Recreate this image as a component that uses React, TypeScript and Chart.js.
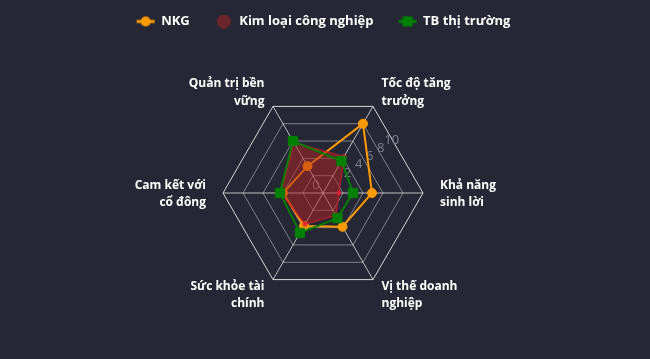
import React, { useEffect, useRef } from "react";
import { Chart, registerables } from "chart.js";

Chart.register(...registerables);

const CATEGORIES: string[][] = [
  ["Tốc độ tăng", "trưởng"],
  ["Khả năng", "sinh lời"],
  ["Vị thế doanh", "nghiệp"],
  ["Sức khỏe tài", "chính"],
  ["Cam kết với", "cổ đông"],
  ["Quản trị bền", "vững"],
];
const SERIES_NAMES = ["NKG", "Kim loại công nghiệp", "TB thị trường"];
const NKG = [8.0, 4.9, 3.9, 3.8, 4.0, 3.1];
const KIM_LOAI = [4.2, 1.6, 2.6, 3.6, 4.2, 5.8];
const TB_THI_TRUONG = [3.7, 3.0, 2.9, 4.6, 4.3, 6.0];
const TICK_VALUES = [0, 2, 4, 6, 8, 10];
const TICK_LABELS = ["0", "2", "4", "6", "8", "10"];

const BG = "#252834";
const ORANGE = "#ff9a00";
const RED_FILL = "rgba(178,34,34,0.5)";
const RED_LINE = "rgba(200,30,45,0.75)";
const GREEN = "#008000";
const FONT = "'Open Sans', 'Noto Sans', sans-serif";

function makeIcon(kind: string): HTMLCanvasElement {
  const c = document.createElement("canvas");
  c.width = 20;
  c.height = 14;
  const g = c.getContext("2d")!;
  if (kind === "orange") {
    g.strokeStyle = ORANGE;
    g.lineWidth = 3;
    g.beginPath();
    g.moveTo(1, 7);
    g.lineTo(19, 7);
    g.stroke();
    g.fillStyle = ORANGE;
    g.beginPath();
    g.arc(10, 7, 5, 0, Math.PI * 2);
    g.fill();
  } else if (kind === "red") {
    g.fillStyle = RED_FILL;
    g.beginPath();
    g.arc(10, 7, 7, 0, Math.PI * 2);
    g.fill();
  } else {
    g.strokeStyle = GREEN;
    g.lineWidth = 3;
    g.beginPath();
    g.moveTo(1, 7);
    g.lineTo(19, 7);
    g.stroke();
    g.fillStyle = GREEN;
    g.fillRect(5, 2, 10, 10);
  }
  return c;
}

const pointLabelPlugin = {
  id: "customPointLabels",
  afterDatasetsDraw(chart: any) {
    const s = chart.scales.r;
    const ctx = chart.ctx;
    ctx.save();
    ctx.font = `bold 12px ${FONT}`;
    ctx.fillStyle = "#ffffff";
    ctx.textBaseline = "middle";
    const labels = chart.data.labels as string[][];
    const lh = 17.5;
    labels.forEach((lines, i) => {
      const p = s.getPointPosition(i, s.drawingArea + 17);
      const dx = p.x - s.xCenter;
      ctx.textAlign = dx > 1 ? "left" : dx < -1 ? "right" : "center";
      const y0 = p.y - ((lines.length - 1) * lh) / 2 + 1;
      lines.forEach((t, k) => ctx.fillText(t, p.x, y0 + k * lh));
    });
    ctx.restore();
  },
};

const tickLabelPlugin = {
  id: "customTickLabels",
  beforeDatasetsDraw(chart: any) {
    const s = chart.scales.r;
    const ctx = chart.ctx;
    ctx.save();
    ctx.font = `13px ${FONT}`;
    ctx.fillStyle = "#7e838d";
    ctx.textAlign = "center";
    ctx.textBaseline = "middle";
    TICK_VALUES.forEach((v, i) => {
      const d = s.getDistanceFromCenterForValue(v);
      let x: number, y: number;
      if (v === 0) {
        x = s.xCenter - 7;
        y = s.yCenter - 8;
      } else {
        x = s.xCenter + 13.5 + 0.5525 * d;
        y = s.yCenter - 11.75 - 0.4125 * d;
      }
      ctx.fillText(TICK_LABELS[i], x, y);
    });
    ctx.restore();
  },
};

export default function App() {
  const ref = useRef<HTMLCanvasElement | null>(null);

  useEffect(() => {
    if (!ref.current) return;
    const icons = [makeIcon("orange"), makeIcon("red"), makeIcon("green")];
    const chart = new Chart(ref.current, {
      type: "radar",
      data: {
        labels: CATEGORIES,
        datasets: [
          {
            label: SERIES_NAMES[0],
            data: NKG,
            borderColor: ORANGE,
            backgroundColor: ORANGE,
            borderWidth: 2,
            pointRadius: 4.5,
            pointBackgroundColor: ORANGE,
            pointBorderColor: ORANGE,
            pointBorderWidth: 1,
            fill: false,
            order: 3,
          },
          {
            label: SERIES_NAMES[1],
            data: KIM_LOAI,
            borderColor: RED_LINE,
            backgroundColor: RED_FILL,
            borderWidth: 1.5,
            pointRadius: 2.5,
            pointBackgroundColor: "rgba(230,30,50,0.8)",
            pointBorderWidth: 0,
            fill: true,
            order: 2,
          },
          {
            label: SERIES_NAMES[2],
            data: TB_THI_TRUONG,
            borderColor: GREEN,
            backgroundColor: GREEN,
            borderWidth: 2,
            pointStyle: "rect",
            pointRadius: 6.5,
            pointBackgroundColor: GREEN,
            pointBorderColor: GREEN,
            pointBorderWidth: 1,
            fill: false,
            order: 1,
          },
        ],
      },
      options: {
        animation: false,
        responsive: true,
        maintainAspectRatio: false,
        elements: { line: { tension: 0 } },
        layout: { padding: { top: -10, right: 3, bottom: 66, left: 0 } },
        scales: {
          r: {
            min: 0,
            max: 10,
            startAngle: 30,
            ticks: { display: false, stepSize: 2 },
            pointLabels: { display: false },
            grid: {
              color: (c: any) =>
                c.tick && c.tick.value === 10 ? "rgba(235,235,235,0.9)" : "rgba(255,255,255,0.42)",
              lineWidth: 1,
            },
            angleLines: { color: "rgba(235,235,235,0.78)", lineWidth: 1 },
          },
        },
        plugins: {
          tooltip: { enabled: false },
          title: {
            display: true,
            text: " ",
            weight: 500,
            font: { size: 1, lineHeight: 1 },
            padding: { top: 27, bottom: 27 },
          } as any,
          legend: {
            position: "top",
            labels: {
              color: "#ffffff",
              font: { family: FONT, size: 13, weight: "bold" },
              usePointStyle: true,
              pointStyleWidth: 18,
              padding: 25,
              generateLabels: () =>
                SERIES_NAMES.map((name, i) => ({
                  text: name,
                  fillStyle: "transparent",
                  strokeStyle: "transparent",
                  lineWidth: 0,
                  pointStyle: icons[i],
                  hidden: false,
                  datasetIndex: i,
                  fontColor: "#ffffff",
                })),
            },
          },
        },
      },
      plugins: [tickLabelPlugin, pointLabelPlugin],
    } as any);
    return () => chart.destroy();
  }, []);

  return (
    <div
      style={{
        position: "fixed",
        left: 0,
        top: 0,
        width: 650,
        height: 359,
        background: BG,
      }}
    >
      <canvas ref={ref} />
    </div>
  );
}
